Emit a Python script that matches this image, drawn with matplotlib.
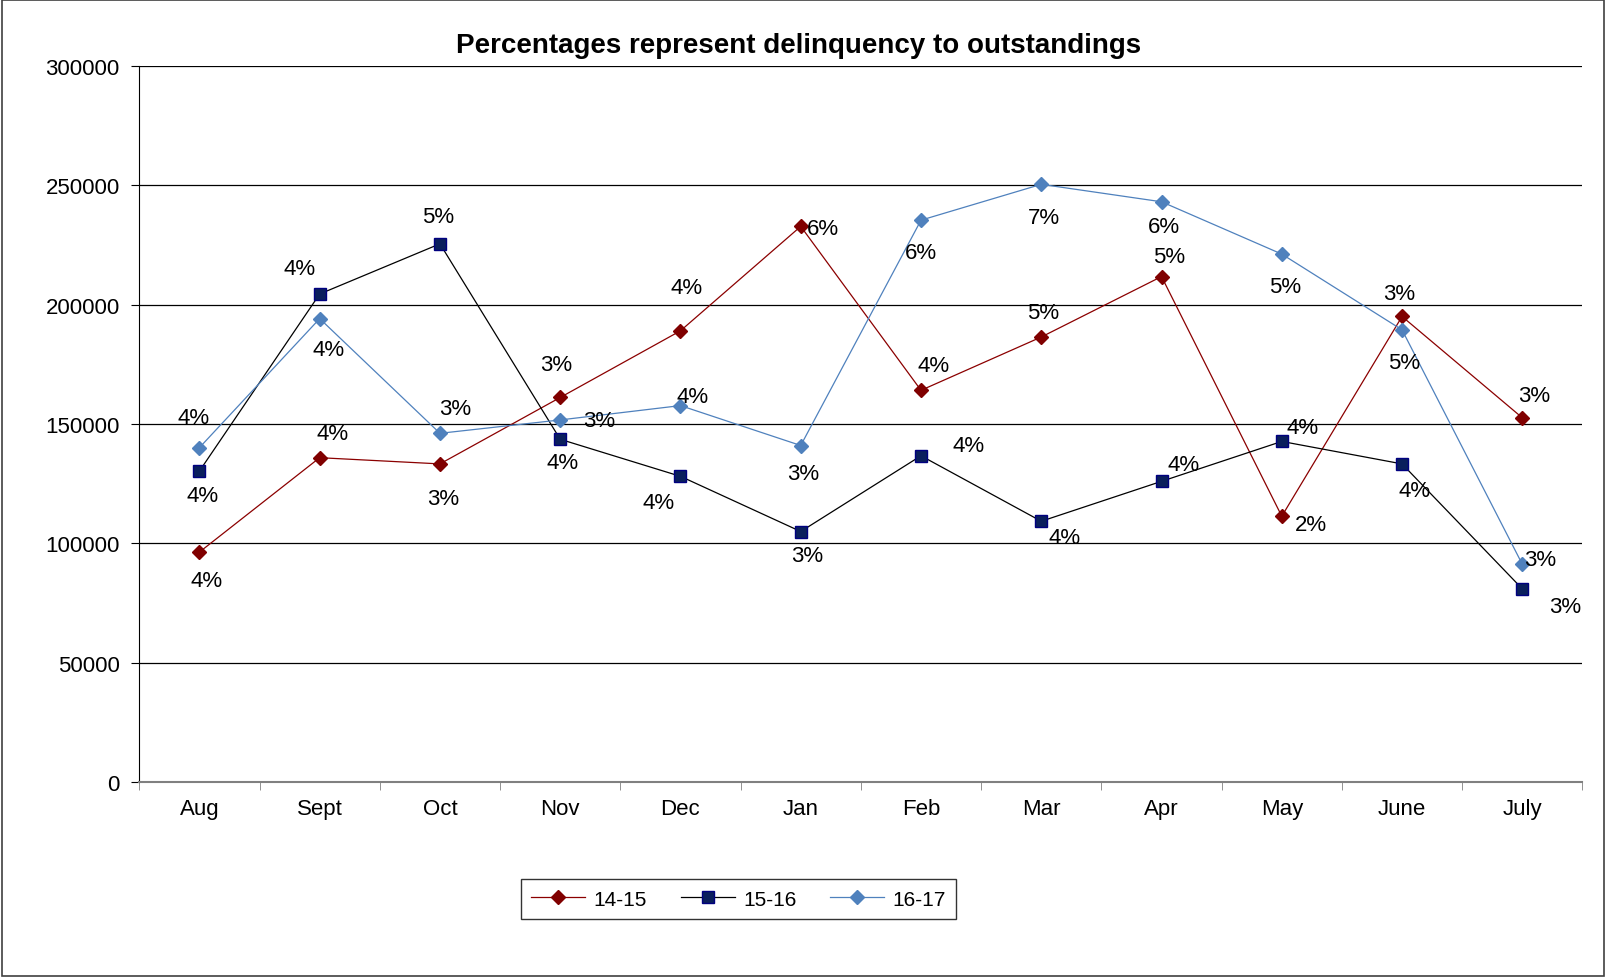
import matplotlib.pyplot as plt
import numpy as np

plt.rcParams['font.family'] = ['Liberation Sans', 'DejaVu Sans']

months = ['Aug', 'Sept', 'Oct', 'Nov', 'Dec', 'Jan', 'Feb', 'Mar', 'Apr', 'May', 'June', 'July']

vals_1415 = [96400, 135900, 133300, 161100, 189000, 232700, 164100, 186400, 211700, 111400, 195000, 152600]
vals_1516 = [130300, 204400, 225400, 143600, 128100, 105000, 136700, 109300, 126000, 142700, 133300, 81000]
vals_1617 = [140100, 194100, 146100, 151700, 157700, 141000, 235300, 250300, 243000, 221100, 189400, 91300]

pct_1415 = ['4%', '4%', '3%', '3%', '4%', '6%', '4%', '5%', '5%', '2%', '3%', '3%']
pct_1516 = ['4%', '4%', '5%', '4%', '4%', '3%', '4%', '4%', '4%', '4%', '4%', '3%']
pct_1617 = ['4%', '4%', '3%', '3%', '4%', '3%', '6%', '7%', '6%', '5%', '5%', '3%']

# label offsets in screen pixels (dx, dy), y measured downward like the picture
off_1415 = [(7, 28), (13, -24), (3, 34), (-4, -32), (6, -42), (22, 2), (12, -24), (2, -24), (7, -20), (28, 8), (-3, -22), (12, -22)]
off_1516 = [(3, 24), (-20, -25), (-2, -27), (2, 23), (-21, 26), (6, 23), (46, -10), (23, 16), (22, -16), (20, -14), (12, 26), (42, 17)]
off_1617 = [(-6, -29), (9, 30), (15, -24), (38, 1), (12, -9), (2, 27), (0, 32), (3, 32), (2, 24), (3, 32), (2, 32), (17, -5)]

W, H = 1568, 955  # reference measured at this scale
fig = plt.figure(figsize=(16.06, 9.78), dpi=100)
ax = fig.add_axes([136 / W, 1 - 765 / H, 1409 / W, 700 / H])

k = 0.72 * 1606 / W
x = np.arange(len(months))
series = [
    ('14-15', vals_1415, pct_1415, off_1415, dict(color='#8B0000', marker='D', ms=7.5, mfc='#800000', mec='#800000')),
    ('15-16', vals_1516, pct_1516, off_1516, dict(color='#000000', marker='s', ms=8.5, mfc='#0a1f5c', mec='#000080')),
    ('16-17', vals_1617, pct_1617, off_1617, dict(color='#4F81BD', marker='D', ms=7.5, mfc='#4F81BD', mec='#4F81BD')),
]
for name, vals, pcts, offs, st in series:
    ax.plot(x, vals, lw=0.9, label=name, **st)
    for xi, yi, p, (dx, dy) in zip(x, vals, pcts, offs):
        ax.annotate(p, (xi, yi), xytext=(dx * k, -dy * k), textcoords='offset points',
                    ha='center', va='center', fontsize=16, color='black')

ax.set_xlim(-0.5, len(months) - 0.5)
ax.set_ylim(0, 300000)
ax.set_yticks(np.arange(0, 300001, 50000))
ax.yaxis.grid(True, color='#000000', lw=0.9)
ax.set_axisbelow(True)
ax.set_xticks(x)
ax.set_xticklabels(months, fontsize=16)
ax.set_xticks(np.arange(-0.5, len(months), 1), minor=True)
ax.tick_params(axis='x', which='major', length=0, pad=11)
ax.tick_params(axis='x', which='minor', length=6, color='#808080')
ax.tick_params(axis='y', length=6, labelsize=16, pad=8)
for s in ['top', 'right']:
    ax.spines[s].set_visible(False)
ax.spines['bottom'].set_color('#808080')
ax.spines['bottom'].set_linewidth(1.5)
ax.spines['left'].set_color('#000000')

fig.text(780 / W, 1 - 45 / H, 'Percentages represent delinquency to outstandings',
         ha='center', va='center', fontsize=20, fontweight='bold')

leg = fig.legend(loc='center', bbox_to_anchor=(721 / W, 1 - 879 / H), ncol=3,
                 fontsize=15, frameon=True, fancybox=False, edgecolor='black',
                 handlelength=2.6, handletextpad=0.4, columnspacing=1.6, borderpad=0.5,
                 borderaxespad=0)
leg.get_frame().set_linewidth(1.0)

fig.patches.append(plt.Rectangle((0.001, 0.001), 0.998, 0.998, transform=fig.transFigure,
                                 fill=False, edgecolor='#404040', lw=1.2))

fig.savefig('out.png', dpi=100)
